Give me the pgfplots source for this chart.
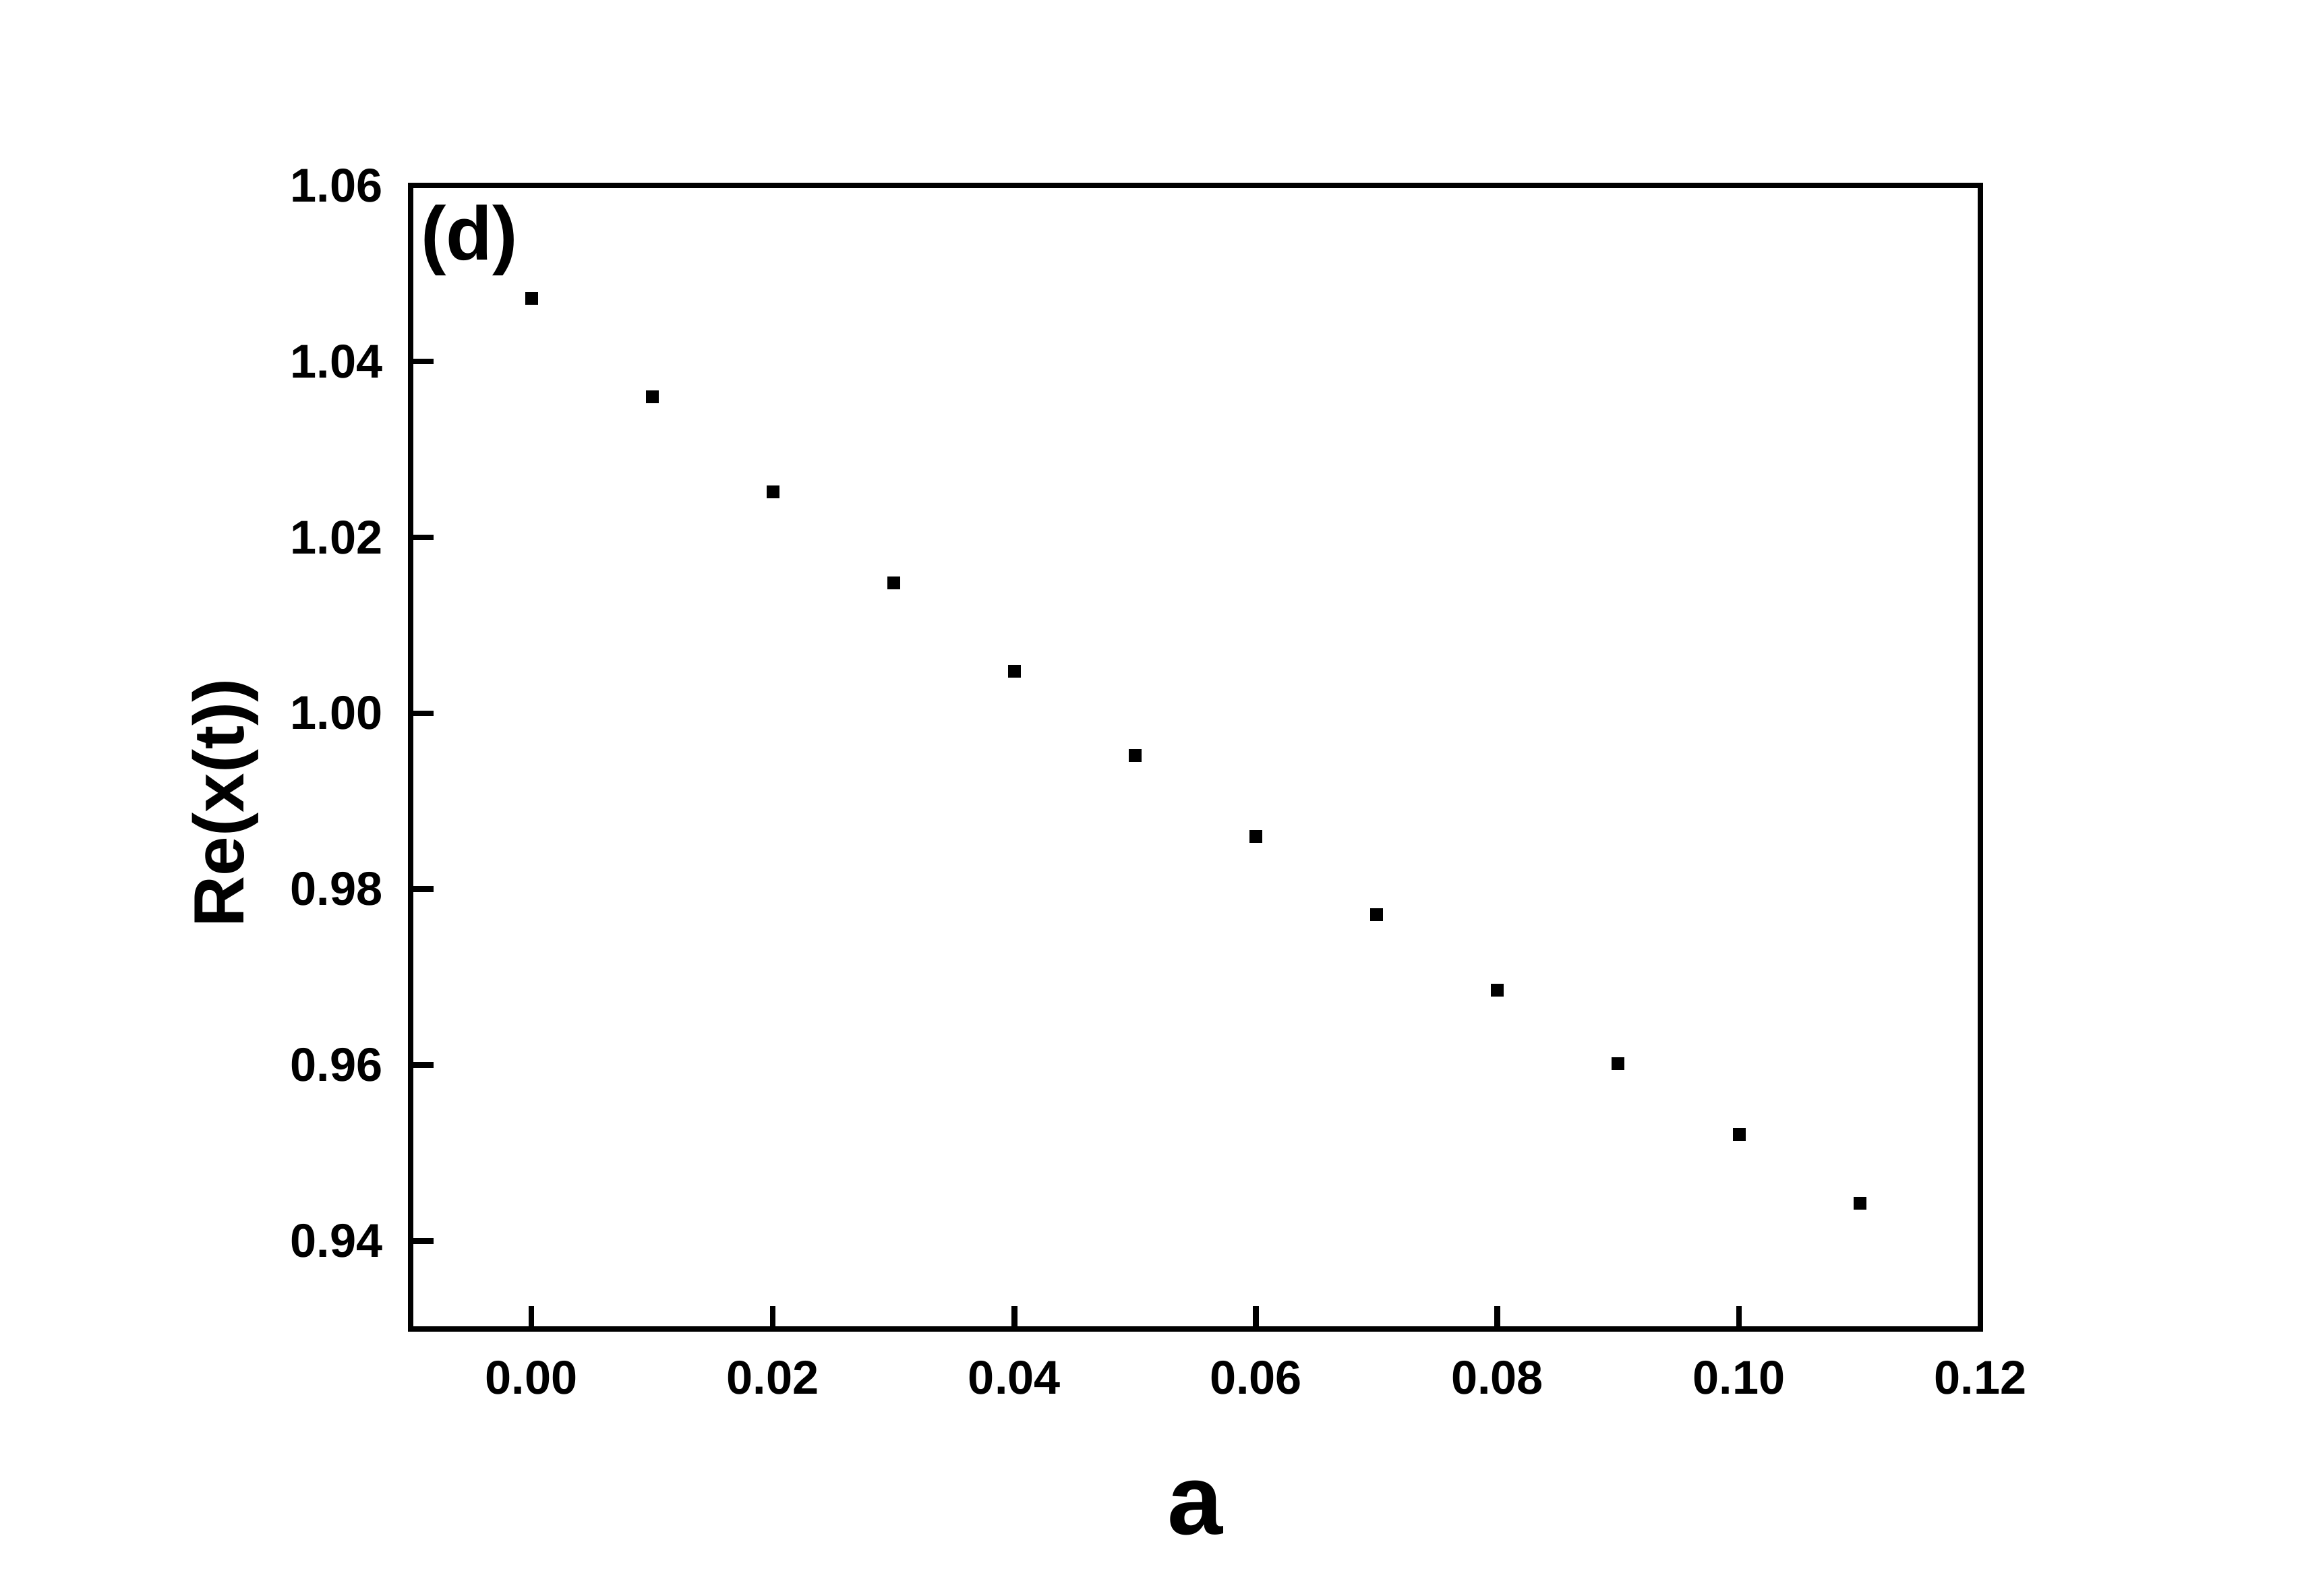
\documentclass[border=0pt]{standalone}
\usepackage{fontspec}
\setmainfont{Liberation Sans}
\usepackage{pgfplots}
\pgfplotsset{compat=1.18}

\begin{document}
\begin{tikzpicture}
\begin{axis}[
  scale only axis, width=11.64cm, height=8.48cm,
  xmin=-0.01, xmax=0.12, ymin=0.93, ymax=1.06,
  xtick={0,0.02,0.04,0.06,0.08,0.10,0.12},
  ytick={0.94,0.96,0.98,1.00,1.02,1.04,1.06},
  xtick pos=bottom, ytick pos=left, tick align=inside,
  major tick length=0.17cm,
  every tick/.style={black, line width=1.2pt},
  axis line style={line width=1.25pt},
  /pgf/number format/assume math mode=true,
  /pgf/number format/fixed, /pgf/number format/fixed zerofill,
  /pgf/number format/precision=2,
  xticklabel style={font=\fontsize{10}{12}\selectfont\bfseries, inner sep=0pt, anchor=north, yshift=-0.23cm},
  yticklabel style={font=\fontsize{10}{12}\selectfont\bfseries, inner sep=0pt, anchor=east, xshift=-0.2cm},
  scaled ticks=false,
  xlabel={a},
  xlabel style={at={(axis description cs:0.5,0)}, anchor=base, yshift=-1.52cm, inner sep=0pt,
    font=\fontsize{21}{25}\selectfont\bfseries},
  ylabel={Re(x(t))},
  % rotated label: local yshift points left
  ylabel style={at={(axis description cs:0,0.46)}, anchor=base, yshift=1.235cm, inner sep=0pt,
    font=\fontsize{15}{18}\selectfont\bfseries},
]
\addplot[only marks, mark=square*, mark size=0.045cm,
  mark options={fill=black, draw=black, line width=0.1pt}] coordinates {
  (0.00,1.0472) (0.01,1.0360) (0.02,1.0252) (0.03,1.0148)
  (0.04,1.0048) (0.05,0.9952) (0.06,0.9860) (0.07,0.9771)
  (0.08,0.9685) (0.09,0.9602) (0.10,0.9521) (0.11,0.9443)
};
\node[anchor=north west, inner sep=0pt, xshift=0.07cm, yshift=-0.14cm,
  font=\fontsize{16}{19}\selectfont\bfseries] at (rel axis cs:0,1) {(d)};
\coordinate (O) at (rel axis cs:0,0);
\end{axis}
\path (O) ++(-3.045,-1.98) rectangle ++(17.055,11.835);
\end{tikzpicture}
\end{document}
